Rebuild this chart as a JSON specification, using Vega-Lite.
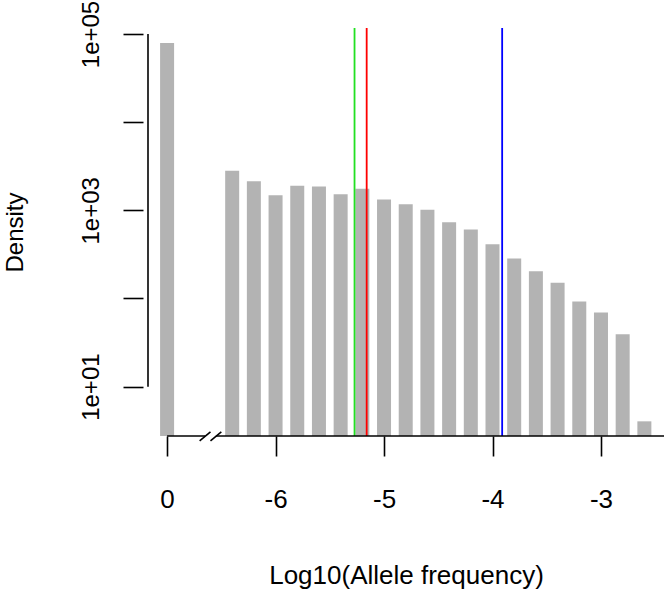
{
  "$schema": "https://vega.github.io/schema/vega-lite/v6.json",
  "description": "Log-scale histogram of allele frequencies with a broken x axis and three cut-off lines.",
  "width": 526,
  "height": 408,
  "autosize": {"type": "none"},
  "padding": {"left": 143, "top": 28, "right": 1, "bottom": 155},
  "background": "#ffffff",
  "datasets": {
    "bins": [
      {"log10_freq": -7.0, "density": 79100},
      {"log10_freq": -6.4, "density": 2805},
      {"log10_freq": -6.2, "density": 2138},
      {"log10_freq": -6.0, "density": 1483},
      {"log10_freq": -5.8, "density": 1895},
      {"log10_freq": -5.6, "density": 1862},
      {"log10_freq": -5.4, "density": 1522},
      {"log10_freq": -5.2, "density": 1753},
      {"log10_freq": -5.0, "density": 1325},
      {"log10_freq": -4.8, "density": 1171},
      {"log10_freq": -4.6, "density": 1013},
      {"log10_freq": -4.4, "density": 733},
      {"log10_freq": -4.2, "density": 606},
      {"log10_freq": -4.0, "density": 413},
      {"log10_freq": -3.8, "density": 284},
      {"log10_freq": -3.6, "density": 204},
      {"log10_freq": -3.4, "density": 151},
      {"log10_freq": -3.2, "density": 92.6},
      {"log10_freq": -3.0, "density": 69.5},
      {"log10_freq": -2.8, "density": 39.2},
      {"log10_freq": -2.6, "density": 4.04}
    ],
    "cutoffs": [
      {"log10_freq": -5.272, "line": "green"},
      {"log10_freq": -5.160, "line": "red"},
      {"log10_freq": -3.911, "line": "blue"}
    ],
    "one": [{}]
  },
  "layer": [
    {
      "data": {"name": "bins"},
      "mark": {"type": "bar", "size": 14, "color": "#B3B3B3"},
      "encoding": {
        "x": {
          "field": "log10_freq",
          "type": "quantitative",
          "scale": {"domain": [-7.176, -2.419], "nice": false, "zero": false},
          "axis": {
            "title": "Log10(Allele frequency)",
            "values": [-7, -6, -5, -4, -3],
            "labelExpr": "datum.value == -7 ? '0' : '-' + (-datum.value)",
            "domain": false,
            "grid": false,
            "tickSize": 20,
            "tickWidth": 1.6,
            "tickColor": "#000000",
            "labelFont": "Liberation Sans",
            "labelFontSize": 26,
            "labelColor": "#000000",
            "labelBaseline": "alphabetic",
            "labelPadding": 51,
            "labelFlush": false,
            "labelOverlap": false,
            "titleFont": "Liberation Sans",
            "titleFontSize": 26,
            "titleFontWeight": "normal",
            "titleColor": "#000000",
            "titleX": 263,
            "titleY": 147,
            "titleBaseline": "alphabetic",
            "titleAlign": "center"
          }
        },
        "y": {
          "field": "density",
          "type": "quantitative",
          "scale": {"type": "log", "domain": [2.754, 116950], "nice": false},
          "axis": {
            "title": "Density",
            "values": [10, 100, 1000, 10000, 100000],
            "labelExpr": "datum.value == 10 ? '1e+01' : datum.value == 1000 ? '1e+03' : datum.value == 100000 ? '1e+05' : ''",
            "domain": false,
            "grid": false,
            "tickSize": 20,
            "tickWidth": 1.6,
            "tickColor": "#000000",
            "labelFont": "Liberation Sans",
            "labelFontSize": 24,
            "labelColor": "#000000",
            "labelAngle": 270,
            "labelAlign": "center",
            "labelBaseline": "alphabetic",
            "labelPadding": 25,
            "labelFlush": false,
            "labelOverlap": false,
            "labelBound": false,
            "titleFont": "Liberation Sans",
            "titleFontSize": 24,
            "titleFontWeight": "normal",
            "titleColor": "#000000",
            "titleAngle": 270,
            "titleX": -121,
            "titleY": 204,
            "titleBaseline": "alphabetic",
            "titleAlign": "center"
          }
        },
        "y2": {"datum": 2.754}
      }
    },
    {
      "data": {"name": "cutoffs"},
      "mark": {"type": "rule", "strokeWidth": 1.8},
      "encoding": {
        "x": {"field": "log10_freq", "type": "quantitative"},
        "color": {
          "field": "line",
          "type": "nominal",
          "scale": {"domain": ["green", "red", "blue"], "range": ["#22E022", "#FF0000", "#0000FF"]},
          "legend": null
        }
      }
    },
    {
      "data": {"name": "one"},
      "mark": {"type": "rule", "strokeWidth": 1.6, "color": "#000000"},
      "encoding": {
        "x": {"datum": -7.176},
        "y": {"datum": 10},
        "y2": {"datum": 100000}
      }
    },
    {
      "data": {"name": "one"},
      "mark": {"type": "rule", "strokeWidth": 1.6, "color": "#000000"},
      "encoding": {
        "x": {"datum": -7},
        "x2": {"datum": -6.65},
        "y": {"datum": 2.754}
      }
    },
    {
      "data": {"name": "one"},
      "mark": {"type": "rule", "strokeWidth": 1.6, "color": "#000000"},
      "encoding": {
        "x": {"datum": -6.55},
        "x2": {"datum": -2.419},
        "y": {"datum": 2.754}
      }
    },
    {
      "data": {"name": "one"},
      "mark": {"type": "rule", "strokeWidth": 1.6, "color": "#000000"},
      "encoding": {
        "x": {"datum": -6.7},
        "x2": {"datum": -6.6},
        "y": {"datum": 2.42},
        "y2": {"datum": 3.06}
      }
    },
    {
      "data": {"name": "one"},
      "mark": {"type": "rule", "strokeWidth": 1.6, "color": "#000000"},
      "encoding": {
        "x": {"datum": -6.6},
        "x2": {"datum": -6.5},
        "y": {"datum": 2.42},
        "y2": {"datum": 3.06}
      }
    }
  ],
  "config": {"view": {"stroke": null}}
}
